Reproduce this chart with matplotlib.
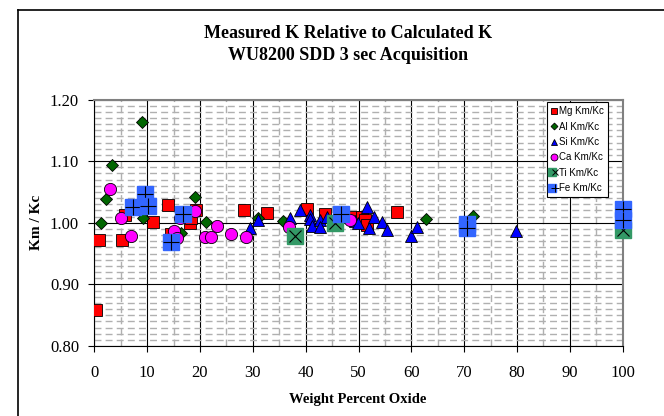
import matplotlib
matplotlib.use("Agg")
import matplotlib.pyplot as plt
from matplotlib.legend_handler import HandlerTuple
from matplotlib.lines import Line2D
from matplotlib.ticker import MultipleLocator

# Km/Kc ratios by oxide weight percent
mg_x = [0.4, 0.9, 5.3, 5.9, 11.2, 14.0, 14.5, 18.1, 18.3, 19.2, 28.3, 32.6,
        40.2, 43.7, 49.3, 50.6, 51.2, 51.6, 57.2]
mg_y = [0.858, 0.972, 0.972, 1.012, 1.001, 1.028, 0.982, 0.999, 1.007, 1.020,
        1.021, 1.016, 1.022, 1.015, 1.010, 1.010, 1.005, 0.996, 1.018]

al_x = [1.3, 2.2, 3.3, 9.1, 9.3, 16.5, 19.1, 21.1, 31.0, 35.8, 62.8, 71.6]
al_y = [1.000, 1.038, 1.094, 1.164, 1.007, 0.983, 1.042, 1.002, 1.007, 1.003,
        1.006, 1.011]

si_x = [29.5, 30.9, 37.0, 38.9, 40.8, 40.8, 41.2, 42.8, 42.8, 44.1, 49.3, 49.9,
        51.7, 51.9, 52.9, 54.4, 55.4, 59.9, 61.1, 79.9]
si_y = [0.991, 1.004, 1.007, 1.021, 1.013, 1.006, 0.994, 1.004, 0.993, 1.010,
        1.003, 0.999, 1.026, 0.991, 1.010, 1.002, 0.989, 0.978, 0.993, 0.987]

ca_x = [3.0, 5.0, 6.9, 15.1, 15.6, 16.2, 19.1, 21.0, 22.0, 23.2, 25.8, 28.8,
        36.9, 48.3]
ca_y = [1.055, 1.008, 0.979, 0.987, 0.975, 1.008, 1.019, 0.977, 0.977, 0.994,
        0.982, 0.977, 0.993, 1.004]

ti_x = [38.0, 45.6, 100.0]
ti_y = [0.978, 0.999, 0.988]

fe_x = [7.4, 9.6, 10.2, 14.5, 16.8, 46.6, 70.6, 70.6, 100.0, 100.0]
fe_y = [1.026, 1.046, 1.027, 0.969, 1.014, 1.015, 0.998, 0.991, 1.022, 1.004]

x_ticks = [0, 10, 20, 30, 40, 50, 60, 70, 80, 90, 100]
y_ticks = [0.80, 0.90, 1.00, 1.10, 1.20]
y_labels = ["0.80", "0.90", "1.00", "1.10", "1.20"]

SERIF = "Liberation Serif"
SANS = "Liberation Sans"

W, H = 664, 416
fig = plt.figure(figsize=(W / 100, H / 100), dpi=100)
fig.patch.set_facecolor("white")

# chart area border: left and top edges (the rest lies past the canvas)
bx, by = 18 / W, 1 - 10 / H
fig.add_artist(Line2D([bx, bx], [0, by], transform=fig.transFigure, color="black",
                      linewidth=1.2, solid_capstyle="projecting"))
fig.add_artist(Line2D([bx, 1], [by, by], transform=fig.transFigure, color="black",
                      linewidth=1.2, solid_capstyle="projecting"))

left, right = 94.3 / W, 622.7 / W
bottom, top = 1 - 346 / H, 1 - 99.5 / H
ax = fig.add_axes([left, bottom, right - left, top - bottom])

ax.set_xlim(0, 100)
ax.set_ylim(0.80, 1.20)
ax.set_xticks(x_ticks)
ax.set_yticks(y_ticks)
ax.set_yticklabels(y_labels)
ax.xaxis.set_minor_locator(MultipleLocator(5))
ax.yaxis.set_minor_locator(MultipleLocator(0.01))
ax.tick_params(axis="both", which="major", direction="out", length=4, width=0.8,
               labelsize=12)
ax.tick_params(axis="x", which="major", pad=10)
ax.tick_params(axis="y", which="major", pad=7)
ax.tick_params(axis="both", which="minor", length=0)
for lab in ax.get_xticklabels() + ax.get_yticklabels():
    lab.set_fontfamily(SERIF)

ax.set_axisbelow(True)
ax.grid(which="minor", color="#b0b0b0", linewidth=1.0, linestyle=(0, (5, 3)))
ax.grid(which="major", color="black", linewidth=0.8, linestyle="-")

for side in ("left", "bottom"):
    ax.spines[side].set_color("black")
    ax.spines[side].set_linewidth(0.8)
for side in ("top", "right"):
    ax.spines[side].set_color("#808080")
    ax.spines[side].set_linewidth(1.5)

ek = dict(markeredgecolor="black", markeredgewidth=0.6, linestyle="none")
ax.plot(mg_x, mg_y, marker="s", markersize=8.8, color="#ff0000", zorder=3, **ek)
ax.plot(al_x, al_y, marker="D", markersize=6.3, color="#006600", zorder=3, **ek)
ax.plot(si_x, si_y, marker="^", markersize=9.3, color="#0000ff", zorder=3, **ek)
ax.plot(ca_x, ca_y, marker="o", markersize=8.8, color="#ff00ff", zorder=3, **ek)
for x, y in zip(ti_x, ti_y):
    ax.plot([x], [y], marker="s", markersize=11, color="#339966", linestyle="none", zorder=3,
            clip_on=False)
    ax.plot([x], [y], marker="x", markersize=8.5, color="black", markeredgewidth=0.8,
            linestyle="none", zorder=3, clip_on=False)
for x, y in zip(fe_x, fe_y):
    ax.plot([x], [y], marker="s", markersize=11, color="#3366ff", linestyle="none", zorder=3,
            clip_on=False)
    ax.plot([x], [y], marker="+", markersize=11, color="black", markeredgewidth=0.8,
            linestyle="none", zorder=3, clip_on=False)

# legend
h_mg = Line2D([], [], marker="s", markersize=5, color="#ff0000", **ek)
h_al = Line2D([], [], marker="D", markersize=3.5, color="#006600", **ek)
h_si = Line2D([], [], marker="^", markersize=5, color="#0000ff", **ek)
h_ca = Line2D([], [], marker="o", markersize=5, color="#ff00ff", **ek)
h_ti = (Line2D([], [], marker="s", markersize=6, color="#339966", linestyle="none"),
        Line2D([], [], marker="x", markersize=5, color="black", markeredgewidth=0.7,
               linestyle="none"))
h_fe = (Line2D([], [], marker="s", markersize=6, color="#3366ff", linestyle="none"),
        Line2D([], [], marker="+", markersize=6, color="black", markeredgewidth=0.7,
               linestyle="none"))
leg = ax.legend([h_mg, h_al, h_si, h_ca, h_ti, h_fe],
                ["Mg Km/Kc", "Al Km/Kc", "Si Km/Kc", "Ca Km/Kc", "Ti Km/Kc", "Fe Km/Kc"],
                handler_map={tuple: HandlerTuple(ndivide=None, pad=0)},
                loc="upper left", bbox_to_anchor=(0.857, 0.988), borderaxespad=0,
                prop={"family": SANS, "size": 7}, handlelength=0.6, handletextpad=0.2,
                labelspacing=0.55, borderpad=0.4, frameon=True, fancybox=False,
                framealpha=1, edgecolor="black")
leg.get_frame().set_linewidth(0.8)
leg.set_zorder(5)

fig.text(348 / W, 1 - 33 / H, "Measured K Relative to Calculated K", ha="center", va="center",
         fontsize=13, fontweight="bold", family=SERIF)
fig.text(348 / W, 1 - 55 / H, "WU8200 SDD 3 sec Acquisition", ha="center", va="center",
         fontsize=13, fontweight="bold", family=SERIF)
fig.text(358 / W, 1 - 399 / H, "Weight Percent Oxide", ha="center", va="center",
         fontsize=10.5, fontweight="bold", family=SERIF)
fig.text(37 / W, 1 - 222 / H, "Km / Kc", ha="center", va="center", rotation=90,
         fontsize=11, fontweight="bold", family=SERIF)

fig.savefig("out.png", dpi=100)
